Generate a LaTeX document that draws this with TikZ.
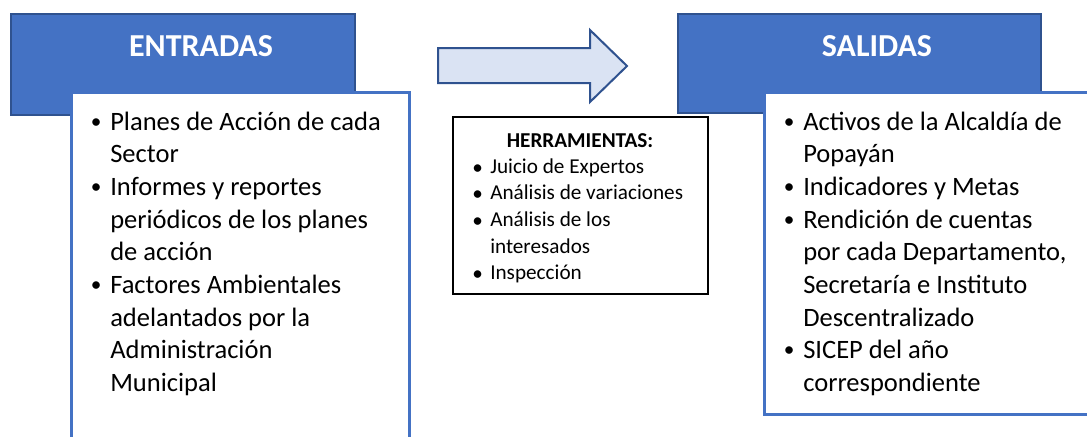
\documentclass[tikz,border=0pt]{standalone}
\usepackage{fontspec}
\setmainfont{Carlito}
\usetikzlibrary{positioning}
\definecolor{azulRelleno}{HTML}{4472C4}
\definecolor{azulBorde}{HTML}{2F528F}
\definecolor{azulClaro}{HTML}{DAE3F3}
\tikzset{cabecera/.style={draw=azulBorde,line width=1.5pt,fill=azulRelleno,anchor=north west,inner sep=0pt}}
\tikzset{caja/.style={draw=azulRelleno,line width=2.25pt,fill=white,anchor=north west,inner sep=0pt}}
\tikzset{titulo/.style={text=white,font=\fontsize{24}{29}\selectfont\bfseries,anchor=base,inner sep=0pt}}
\tikzset{lista/.style={font=\fontsize{19.9}{24.5}\selectfont,anchor=base west,inner sep=0pt}}
\tikzset{listachica/.style={font=\fontsize{15.9}{20}\selectfont,anchor=base west,inner sep=0pt}}
\newcommand{\vineta}{\raisebox{0.07em}{\scalebox{0.8}{\textbullet}}}
\newcommand{\filaItem}[1]{\makebox[15pt][l]{\hspace{0.5pt}\vineta}&#1\\}
\newcommand{\filaHerr}[1]{\makebox[12pt][l]{\hspace{-1.5pt}\raisebox{-0.06em}{\textbullet}}&#1\\}
\newcommand{\filaSigue}[1]{&#1\\}

\begin{document}
\begin{tikzpicture}[x=0.75pt,y=-0.75pt]
        \useasboundingbox (0,0) rectangle (1087,436);
        % entradas
        \node(entHead)[cabecera,minimum width=258pt,minimum height=75.75pt] at (10,13) {};
        \node(entBox)[caja,minimum width=253.5pt,minimum height=276.75pt] at (70,91) {};
        \node(entTitle)[titulo] at (201,56) {ENTRADAS};
        \node(entList)[lista] at (90,130) {\begin{tabular}[t]{@{}l@{}l@{}}
            \filaItem{Planes de Acción de cada}
            \filaSigue{Sector}
            \filaItem{Informes y reportes}
            \filaSigue{periódicos de los planes}
            \filaSigue{de acción}
            \filaItem{Factores Ambientales}
            \filaSigue{adelantados por la}
            \filaSigue{Administración}
            \filaSigue{Municipal}
          \end{tabular}};
        % flecha
        \draw[draw=azulBorde,line width=1.5pt,fill=azulClaro,line join=miter]
        (438,48) -- (590,48) -- (590,30) -- (627,66) -- (590,102) -- (590,83) -- (438,83) -- cycle;
        % herramientas
        \node(herrBox)[draw=black,line width=1.5pt,anchor=north west,inner sep=0pt,
          minimum width=191.25pt,minimum height=132.75pt] at (452,116) {};
        \node(herrTitle)[listachica,anchor=base,font=\fontsize{15.9}{20}\selectfont\bfseries] at (580,147) {HERRAMIENTAS:};
        \node(herrList)[listachica] at (474,173) {\begin{tabular}[t]{@{}l@{}l@{}}
            \filaHerr{Juicio de Expertos}
            \filaHerr{Análisis de variaciones}
            \filaHerr{Análisis de los}
            \filaSigue{interesados}
            \filaHerr{Inspección}
          \end{tabular}};
        % salidas
        \node(salHead)[cabecera,minimum width=272.25pt,minimum height=74.25pt] at (677,13) {};
        \node(salBox)[caja,minimum width=252.75pt,minimum height=241.5pt] at (763,91) {};
        \node(salTitle)[titulo] at (877,56) {SALIDAS};
        \node(salList)[lista] at (783,130) {\begin{tabular}[t]{@{}l@{}l@{}}
            \filaItem{Activos de la Alcaldía de}
            \filaSigue{Popayán}
            \filaItem{Indicadores y Metas}
            \filaItem{Rendición de cuentas}
            \filaSigue{por cada Departamento,}
            \filaSigue{Secretaría e Instituto}
            \filaSigue{Descentralizado}
            \filaItem{SICEP del año}
            \filaSigue{correspondiente}
          \end{tabular}};
      \end{tikzpicture}
\end{document}
